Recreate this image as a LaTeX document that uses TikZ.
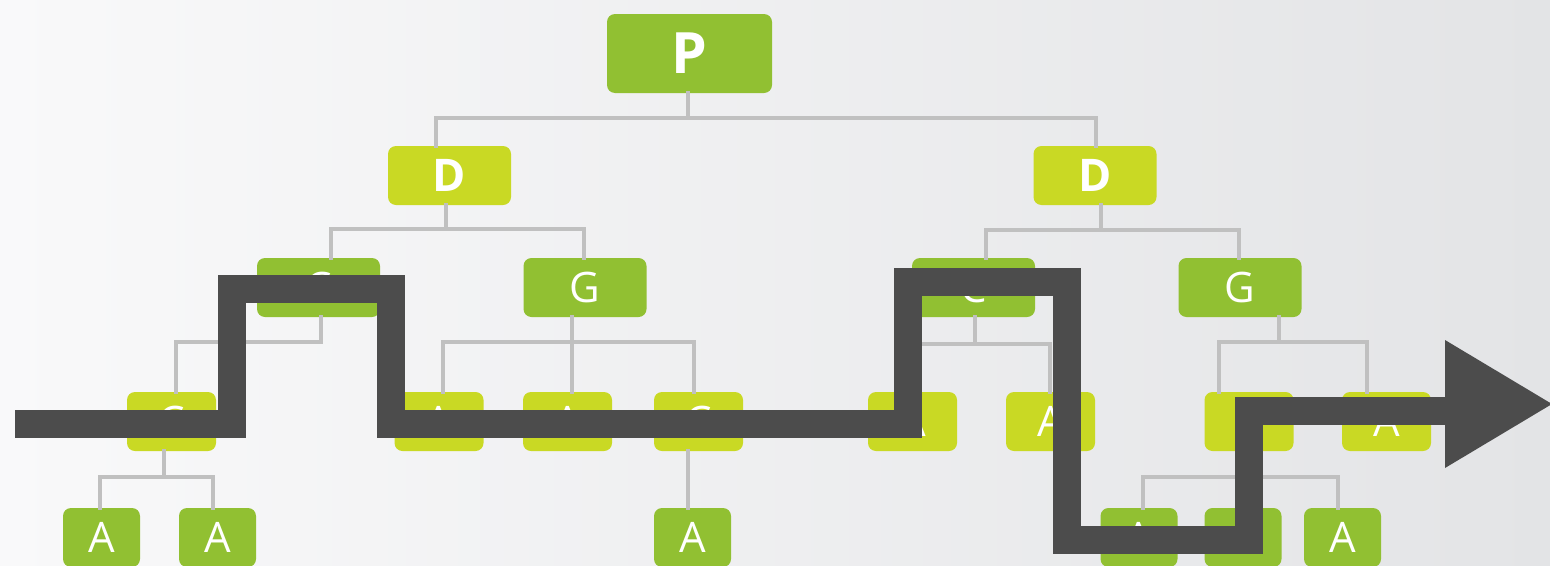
\documentclass[tikz,border=0pt]{standalone}
\usepackage{fontspec}
\setmainfont{Open Sans}
\definecolor{grn}{HTML}{91C032}
\definecolor{ylw}{HTML}{C9D924}
\definecolor{lin}{HTML}{C0C0C0}
\definecolor{pth}{HTML}{4C4C4C}
\definecolor{bgl}{HTML}{F9F9FA}
\definecolor{bgr}{HTML}{E3E4E6}
\tikzset{
  box/.style={rounded corners=8pt, inner sep=0pt, text=white, font=\fontsize{42}{48}\selectfont},
  gbox/.style={box, fill=grn},
  ybox/.style={box, fill=ylw},
  big/.style={minimum width=123pt, minimum height=59pt},
  mid/.style={minimum width=89pt, minimum height=59pt},
  small/.style={minimum width=77pt, minimum height=59pt},
  conn/.style={draw=lin, line width=4pt, line cap=rect},
  route/.style={draw=pth, line width=28pt, line join=miter}
}
\begin{document}
\begin{tikzpicture}[x=1pt,y=-1pt]
\useasboundingbox (0,0) rectangle (1550,565);
\shade[left color=bgl, right color=bgr] (0,0) rectangle (1550,565);
% level 1
\node[gbox, minimum width=165pt, minimum height=79pt, font=\fontsize{57}{60}\selectfont\bfseries] (P) at (689.5,53.5) {P};
% level 2
\node[ybox, big, font=\fontsize{45}{50}\selectfont\bfseries] (DL) at (449.5,175.5) {D};
\node[ybox, big, font=\fontsize{45}{50}\selectfont\bfseries] (DR) at (1095,175.5) {D};
% level 3
\node[gbox, big] (CL) at (318.5,287.5) {C};
\node[gbox, big] (GL) at (585,287.5) {G};
\node[gbox, big] (CR) at (973.5,287.5) {C};
\node[gbox, big] (GR) at (1240,287.5) {G};
% level 4
\node[ybox, mid] (Ca) at (171.5,421.5) {C};
\node[ybox, mid] (Ab) at (439,421.5) {A};
\node[ybox, mid] (Ac) at (567.5,421.5) {A};
\node[ybox, mid] (Cd) at (698.5,421.5) {C};
\node[ybox, mid] (Ae) at (912.5,421.5) {A};
\node[ybox, mid] (Af) at (1050.5,421.5) {A};
\node[ybox, mid] (Cg) at (1249,421.5) {C};
\node[ybox, mid] (Ah) at (1386.5,421.5) {A};
% level 5
\node[gbox, small] (A1) at (101.5,537.5) {A};
\node[gbox, small] (A2) at (217.5,537.5) {A};
\node[gbox, small] (A3) at (692.5,537.5) {A};
\node[gbox, small] (A4) at (1139,537.5) {A};
\node[gbox, small] (A5) at (1243,537.5) {A};
\node[gbox, small] (A6) at (1342.5,537.5) {A};
% connectors
\draw[conn] ([xshift=-1.5pt]P.south) -- ++(0,25) -| ([xshift=-13.5pt]DL.north);
\draw[conn] ([xshift=-1.5pt]P.south) -- ++(0,25) -| ([xshift=1pt]DR.north);
\draw[conn] ([xshift=-3.5pt]DL.south) -- ++(0,24) -| ([xshift=12.5pt]CL.north);
\draw[conn] ([xshift=-3.5pt]DL.south) -- ++(0,24) -| ([xshift=-1pt]GL.north);
\draw[conn] ([xshift=6pt]DR.south) -- ++(0,25) -| ([xshift=12.5pt]CR.north);
\draw[conn] ([xshift=6pt]DR.south) -- ++(0,25) -| ([xshift=-1pt]GR.north);
\draw[conn] ([xshift=2.5pt]CL.south) -- ++(0,25) -| ([xshift=4.5pt]Ca.north);
\draw[conn] ([xshift=-13pt]GL.south) -- ++(0,25) -| ([xshift=4pt]Ab.north);
\draw[conn] ([xshift=-13pt]GL.south) -- ([xshift=4.5pt]Ac.north);
\draw[conn] ([xshift=-13pt]GL.south) -- ++(0,25) -| ([xshift=-4.5pt]Cd.north);
\draw[conn] ([xshift=-11pt]Cd.south) -- ([xshift=-4.5pt]A3.north |- Cd.south) -- ([xshift=-4.5pt]A3.north);
\draw[conn] ([xshift=1.5pt]CR.south) -- ++(0,27) -| ([xshift=-0.5pt]Ae.north);
\draw[conn] ([xshift=1.5pt]CR.south) -- ++(0,27) -| ([xshift=-0.5pt]Af.north);
\draw[conn] ([xshift=39pt]GR.south) -- ++(0,25) -| ([xshift=-30pt]Cg.north);
\draw[conn] ([xshift=39pt]GR.south) -- ++(0,25) -| ([xshift=-19.5pt]Ah.north);
\draw[conn] ([xshift=-7.5pt]Ca.south) -- ++(0,26) -| ([xshift=-1.5pt]A1.north);
\draw[conn] ([xshift=-7.5pt]Ca.south) -- ++(0,26) -| ([xshift=-4.5pt]A2.north);
\draw[conn] (Cg.south) -- ++(0,26) -| ([xshift=4pt]A4.north);
\draw[conn] (Cg.south) -- ++(0,26) -| (A5.north);
\draw[conn] (Cg.south) -- ++(0,26) -| ([xshift=-4.5pt]A6.north);
% route
\coordinate (r0) at (15,423.5);
\coordinate (r1) at (231.5,423.5);
\coordinate (r2) at (231.5,289);
\coordinate (r3) at (391,289);
\coordinate (r4) at (391,424);
\coordinate (r5) at (907.5,424);
\coordinate (r6) at (907.5,281.5);
\coordinate (r7) at (1067,281.5);
\coordinate (r8) at (1067,539.5);
\coordinate (r9) at (1248.5,539.5);
\coordinate (r10) at (1248.5,410.5);
\coordinate (r11) at (1447,410.5);
\draw[route] (r0) -- (r1) -- (r2) -- (r3) -- (r4) -- (r5) -- (r6) -- (r7) -- (r8) -- (r9) -- (r10) -- (r11);
\coordinate (t1) at (1445,340);
\coordinate (t2) at (1552,404);
\coordinate (t3) at (1445,468);
\fill[pth] (t1) -- (t2) -- (t3) -- cycle;
\end{tikzpicture}
\end{document}
